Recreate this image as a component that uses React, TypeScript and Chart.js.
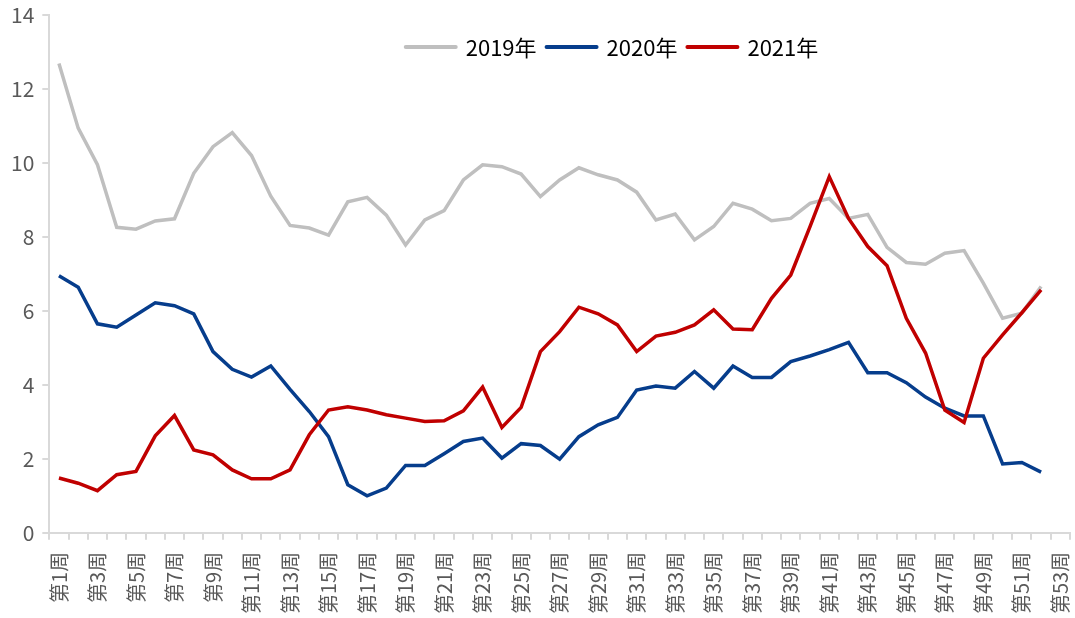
import React, { useEffect, useRef } from 'react';
import { Chart, registerables } from 'chart.js';

Chart.register(...registerables);

const weeks = [
  '第1周', '第2周', '第3周', '第4周', '第5周', '第6周', '第7周', '第8周', '第9周', '第10周',
  '第11周', '第12周', '第13周', '第14周', '第15周', '第16周', '第17周', '第18周', '第19周', '第20周',
  '第21周', '第22周', '第23周', '第24周', '第25周', '第26周', '第27周', '第28周', '第29周', '第30周',
  '第31周', '第32周', '第33周', '第34周', '第35周', '第36周', '第37周', '第38周', '第39周', '第40周',
  '第41周', '第42周', '第43周', '第44周', '第45周', '第46周', '第47周', '第48周', '第49周', '第50周',
  '第51周', '第52周', '第53周',
];

const series2019 = [
  12.69, 10.94, 9.95, 8.26, 8.21, 8.43, 8.49, 9.72, 10.44, 10.82,
  10.2, 9.1, 8.31, 8.24, 8.05, 8.95, 9.07, 8.59, 7.78, 8.46,
  8.71, 9.54, 9.95, 9.9, 9.7, 9.09, 9.54, 9.87, 9.68, 9.54,
  9.21, 8.46, 8.62, 7.92, 8.28, 8.91, 8.75, 8.44, 8.5, 8.91,
  9.04, 8.5, 8.61, 7.72, 7.31, 7.26, 7.56, 7.63, 6.75, 5.8,
  5.94, 6.66,
];

const series2020 = [
  6.95, 6.64, 5.65, 5.56, 5.89, 6.22, 6.14, 5.92, 4.9, 4.42,
  4.21, 4.51, 3.88, 3.28, 2.6, 1.3, 1.0, 1.21, 1.82, 1.82,
  2.14, 2.47, 2.56, 2.02, 2.41, 2.36, 1.99, 2.6, 2.92, 3.12,
  3.86, 3.97, 3.91, 4.36, 3.91, 4.51, 4.2, 4.2, 4.63, 4.78,
  4.95, 5.15, 4.33, 4.33, 4.06, 3.67, 3.37, 3.16, 3.16, 1.86,
  1.9, 1.64,
];

const series2021 = [
  1.48, 1.34, 1.14, 1.57, 1.66, 2.62, 3.17, 2.24, 2.11, 1.7,
  1.46, 1.46, 1.7, 2.65, 3.32, 3.41, 3.32, 3.19, 3.1, 3.01,
  3.03, 3.3, 3.94, 2.85, 3.39, 4.9, 5.44, 6.1, 5.92, 5.62,
  4.9, 5.32, 5.42, 5.62, 6.03, 5.51, 5.49, 6.34, 6.97, 8.28,
  9.63, 8.5, 7.74, 7.22, 5.8, 4.86, 3.32, 2.98, 4.72, 5.35,
  5.95, 6.57,
];

const seriesLabels = ['2019年', '2020年', '2021年'];
const seriesColors = ['#BFBFBF', '#063D8C', '#C00000'];
const yTicks = [0, 2, 4, 6, 8, 10, 12, 14];

const CJK = '"Noto Sans CJK SC", "Noto Sans", sans-serif';

const legendPlugin = {
  id: 'customLegend',
  afterDraw(chart: any) {
    const ctx = chart.ctx as CanvasRenderingContext2D;
    const datasets = chart.data.datasets;
    ctx.save();
    ctx.font = `22px ${CJK}`;
    const boxW = 54;
    const gap = 8;
    const itemGap = 8;
    const widths = datasets.map((d: any) => boxW + gap + ctx.measureText(d.label).width);
    const total = widths.reduce((a: number, b: number) => a + b, 0) + itemGap * (datasets.length - 1);
    const centerX = 611;
    const y = 47;
    let x = centerX - total / 2;
    datasets.forEach((d: any, i: number) => {
      ctx.strokeStyle = d.borderColor;
      ctx.lineWidth = 4;
      ctx.lineCap = 'round';
      ctx.beginPath();
      ctx.moveTo(x + 2, y);
      ctx.lineTo(x + boxW - 2, y);
      ctx.stroke();
      ctx.fillStyle = '#000000';
      ctx.textAlign = 'left';
      ctx.textBaseline = 'middle';
      ctx.fillText(d.label, x + boxW + gap, y + 1);
      x += widths[i] + itemGap;
    });
    ctx.restore();
  },
};

export default function App() {
  const canvasRef = useRef<HTMLCanvasElement | null>(null);

  useEffect(() => {
    if (!canvasRef.current) return;
    const allSeries = [series2019, series2020, series2021];
    const chart = new Chart(canvasRef.current, {
      type: 'line',
      data: {
        labels: weeks,
        datasets: allSeries.map((s, i) => ({
          label: seriesLabels[i],
          data: s,
          borderColor: seriesColors[i],
          backgroundColor: seriesColors[i],
          borderWidth: 3.5,
          pointRadius: 0,
          tension: 0,
          fill: false,
          order: 2 - i,
        })),
      },
      options: {
        animation: false,
        responsive: true,
        maintainAspectRatio: false,
        layout: { padding: { left: 3, right: 5, top: 15, bottom: -8 } },
        plugins: {
          legend: { display: false },
          tooltip: { enabled: false },
        },
        scales: {
          x: {
            type: 'category',
            offset: true,
            afterFit: (scale: any) => {
              scale.paddingRight = 0;
              scale.paddingLeft = 0;
            },
            grid: {
              offset: true,
              drawOnChartArea: false,
              drawTicks: true,
              tickLength: 7,
              color: '#D9D9D9',
              lineWidth: 2,
            },
            border: { color: '#D9D9D9', width: 2 },
            ticks: {
              autoSkip: false,
              minRotation: 90,
              maxRotation: 90,
              padding: 12,
              color: '#595959',
              font: { family: CJK, size: 20 },
              callback: (_v: any, idx: number) => (idx % 2 === 0 ? weeks[idx] : ''),
            },
          },
          y: {
            min: 0,
            max: 14,
            afterBuildTicks: (scale: any) => {
              scale.ticks = yTicks.map((v) => ({ value: v }));
            },
            afterFit: (scale: any) => {
              scale.paddingTop = 0;
              scale.paddingBottom = 0;
            },
            grid: {
              drawOnChartArea: false,
              drawTicks: true,
              tickLength: 7,
              color: '#D9D9D9',
              lineWidth: 2,
            },
            border: { color: '#D9D9D9', width: 2 },
            ticks: {
              padding: 8,
              color: '#595959',
              font: { family: CJK, size: 21 },
            },
          },
        },
      },
      plugins: [legendPlugin],
    });
    return () => chart.destroy();
  }, []);

  return (
    <div style={{ position: 'absolute', left: 0, top: 0, width: 1075, height: 618, background: '#FFFFFF' }}>
      <canvas ref={canvasRef} />
    </div>
  );
}
